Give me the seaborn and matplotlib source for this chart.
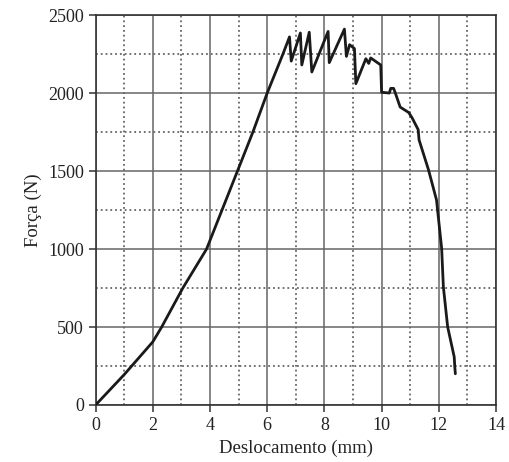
import pandas as pd
import matplotlib
matplotlib.use("Agg")
import matplotlib.pyplot as plt
import seaborn as sns

# Curve: displacement (mm) and force (N)
deslocamento = [0, 1.0, 2.0, 2.31, 3.05, 3.88, 4.42, 4.96, 5.5, 6.0, 6.55, 6.78,
                6.84, 7.16, 7.21, 7.47, 7.56, 8.13, 8.17, 8.70, 8.77, 8.88, 9.05,
                9.10, 9.45, 9.55, 9.62, 9.97, 10.0, 10.27, 10.32, 10.42, 10.5,
                10.65, 10.95, 11.07, 11.28, 11.31, 11.64, 11.92, 12.1, 12.16,
                12.31, 12.54, 12.56, 12.58]
forca = [0, 195, 405, 500, 750, 1000, 1250, 1500, 1750, 2000, 2250, 2360,
         2205, 2385, 2180, 2390, 2135, 2395, 2195, 2410, 2235, 2310, 2285,
         2060, 2220, 2190, 2225, 2180, 2005, 2000, 2030, 2030, 1990,
         1910, 1875, 1840, 1765, 1700, 1508, 1315, 1005, 758,
         501, 308, 244, 200]

x_ticks = [0, 2, 4, 6, 8, 10, 12, 14]
y_ticks = [0, 500, 1000, 1500, 2000, 2500]

df = pd.DataFrame({"Deslocamento": deslocamento, "Forca": forca})

sns.set_theme(style="white")
plt.rcParams["font.family"] = ["Liberation Serif", "DejaVu Serif"]

fig = plt.figure(figsize=(5.1, 4.62), dpi=100)
ax = fig.add_axes([0.1875, 0.1234, 0.785, 0.844])

sns.lineplot(data=df, x="Deslocamento", y="Forca", sort=False, color="#1a1a1a",
             linewidth=2.0, ax=ax, zorder=3)

ax.set_xlim(0, 14)
ax.set_ylim(0, 2500)
ax.set_xticks(x_ticks)
ax.set_yticks(y_ticks)
ax.set_xticks(range(1, 14, 2), minor=True)
ax.set_yticks(range(250, 2500, 500), minor=True)

ax.grid(which="major", color="#666666", linestyle="-", linewidth=1.1)
ax.grid(which="minor", color="#666666", linestyle=":", linewidth=1.3)

for s in ax.spines.values():
    s.set_color("#333333")
    s.set_linewidth(1.2)

ax.tick_params(which="major", direction="out", length=5, width=1.1,
               color="#333333", labelsize=13, labelcolor="#222222",
               left=True, bottom=True)
ax.tick_params(which="minor", length=0)

ax.set_xlabel("Deslocamento (mm)", fontsize=13.5, color="#222222")
ax.set_ylabel("Força (N)", fontsize=13.5, color="#222222")

fig.savefig("out.png", dpi=100)
